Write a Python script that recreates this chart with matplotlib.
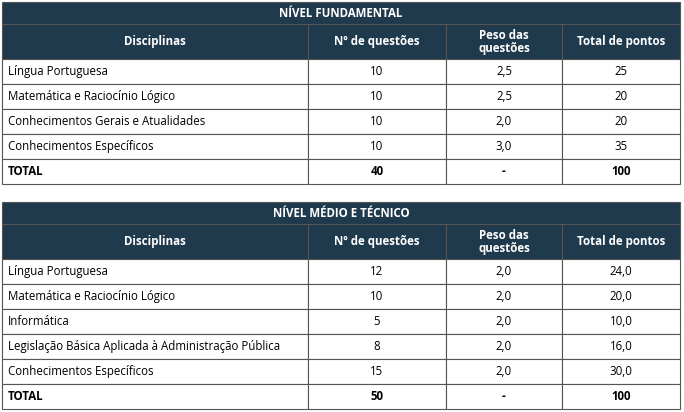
import matplotlib
matplotlib.use('Agg')
import matplotlib.pyplot as plt
from matplotlib.patches import Rectangle

NAVY = '#1F3A4D'
LINE = '#555555'

columns = ['Disciplinas', 'Nº de questões', 'Peso das\nquestões', 'Total de pontos']

fund_title = 'NÍVEL FUNDAMENTAL'
fund_disc = ['Língua Portuguesa', 'Matemática e Raciocínio Lógico',
             'Conhecimentos Gerais e Atualidades', 'Conhecimentos Específicos']
fund_q = ['10', '10', '10', '10']
fund_peso = ['2,5', '2,5', '2,0', '3,0']
fund_total = ['25', '20', '20', '35']
fund_sum = ['TOTAL', '40', '-', '100']

med_title = 'NÍVEL MÉDIO E TÉCNICO'
med_disc = ['Língua Portuguesa', 'Matemática e Raciocínio Lógico', 'Informática',
            'Legislação Básica Aplicada à Administração Pública', 'Conhecimentos Específicos']
med_q = ['12', '10', '5', '8', '15']
med_peso = ['2,0', '2,0', '2,0', '2,0', '2,0']
med_total = ['24,0', '20,0', '10,0', '16,0', '30,0']
med_sum = ['TOTAL', '50', '-', '100']

fig = plt.figure(figsize=(6.84, 4.12), dpi=100)
ax = fig.add_axes([0, 0, 1, 1])
ax.set_xlim(0, 684)
ax.set_ylim(412, 0)
ax.axis('off')

col_x = [2, 308, 446, 562, 680]
FONT = 'Open Sans'
FS = 8.3


def cell(x0, x1, y0, y1, text, fill='white', color='black', bold=False, left=False):
    ax.add_patch(Rectangle((x0, y0), x1 - x0, y1 - y0, facecolor=fill,
                           edgecolor=LINE, linewidth=0.8))
    if left:
        ax.text(x0 + 6, (y0 + y1) / 2, text, ha='left', va='center', fontsize=FS,
                color=color, fontweight='bold' if bold else 'normal', family=FONT)
    else:
        ax.text((x0 + x1) / 2, (y0 + y1) / 2, text, ha='center', va='center',
                fontsize=FS, color=color, fontweight='bold' if bold else 'normal',
                family=FONT, linespacing=1.0)


def draw_table(y, title, disc, q, peso, total, summary):
    cell(col_x[0], col_x[-1], y, y + 22, title, NAVY, 'white', True)
    y += 22
    for i, c in enumerate(columns):
        cell(col_x[i], col_x[i + 1], y, y + 35, c, NAVY, 'white', True)
    y += 35
    for row in zip(disc, q, peso, total):
        for i, v in enumerate(row):
            cell(col_x[i], col_x[i + 1], y, y + 25, v, left=(i == 0))
        y += 25
    for i, v in enumerate(summary):
        cell(col_x[i], col_x[i + 1], y, y + 25, v, bold=True, left=(i == 0))


draw_table(2, fund_title, fund_disc, fund_q, fund_peso, fund_total, fund_sum)
draw_table(202, med_title, med_disc, med_q, med_peso, med_total, med_sum)

fig.savefig('out.png', dpi=100, facecolor='white')
